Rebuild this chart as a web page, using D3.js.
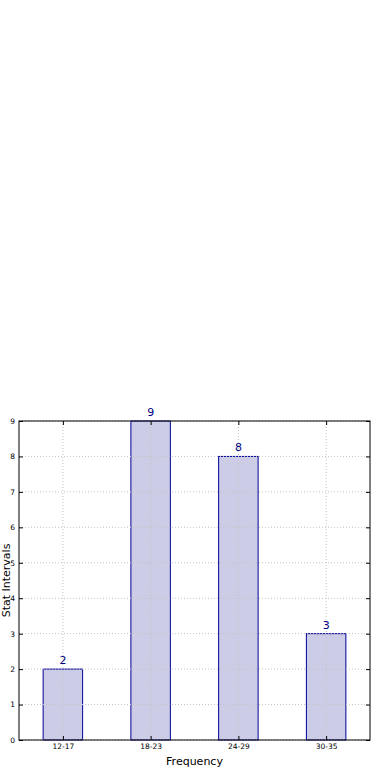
<!DOCTYPE html>
<html>
<head>
<meta charset="utf-8">
<script src="https://cdn.jsdelivr.net/npm/d3@7"></script>
<style>
  body { margin: 0; background: #fff; }
  svg { display: block; font-family: "DejaVu Sans", sans-serif; }
</style>
</head>
<body>
<svg id="chart" width="390" height="780"></svg>
<script>
// chart data
var categories = ["12-17", "18-23", "24-29", "30-35"];
var counts = [2, 9, 8, 3];
var yTicks = [0, 1, 2, 3, 4, 5, 6, 7, 8, 9];

var margin = { top: 421, right: 20, bottom: 40, left: 19 };
var width = 390 - margin.left - margin.right;
var height = 780 - margin.top - margin.bottom;

var svg = d3.select("#chart");
var chart = svg.append("g")
    .attr("transform", "translate(" + margin.left + "," + margin.top + ")");

// categories sit at integer positions, axis spans -0.5 .. 3.5
var x = d3.scaleLinear()
    .domain([-0.5, categories.length - 0.5])
    .range([0, width]);
var y = d3.scaleLinear()
    .domain([0, 9])
    .range([height, 0]);
var barWidth = x(0.45) - x(0);

// bars
chart.append("g")
    .selectAll("rect")
    .data(counts)
    .enter().append("rect")
    .attr("x", function (d, i) { return x(i) - barWidth / 2; })
    .attr("y", function (d) { return y(d); })
    .attr("width", barWidth)
    .attr("height", function (d) { return height - y(d); })
    .attr("fill", "rgba(0,0,128,0.2)")
    .attr("stroke", "#000099")
    .attr("stroke-width", 1);

// grid lines, drawn over the bars like matplotlib does
var grid = chart.append("g").attr("class", "grid");
grid.selectAll("line.gy")
    .data(yTicks)
    .enter().append("line")
    .attr("x1", 0).attr("x2", width)
    .attr("y1", function (d) { return y(d); })
    .attr("y2", function (d) { return y(d); })
    .attr("stroke", "#c4c4c4")
    .attr("stroke-dasharray", "1,2");
grid.selectAll("line.gx")
    .data(categories)
    .enter().append("line")
    .attr("x1", function (d, i) { return x(i); })
    .attr("x2", function (d, i) { return x(i); })
    .attr("y1", 0).attr("y2", height)
    .attr("stroke", "#c4c4c4")
    .attr("stroke-dasharray", "1,2");

// value labels
chart.append("g")
    .selectAll("text")
    .data(counts)
    .enter().append("text")
    .attr("x", function (d, i) { return x(i); })
    .attr("y", function (d) { return y(d) - 5; })
    .attr("text-anchor", "middle")
    .attr("font-size", "11px")
    .attr("fill", "#000080")
    .text(function (d) { return d; });

// frame
chart.append("rect")
    .attr("width", width).attr("height", height)
    .attr("fill", "none")
    .attr("stroke", "#000")
    .attr("stroke-width", 1);

// axes with inward ticks
var tickFmt = function (i) { return categories[i]; };
chart.append("g")
    .attr("transform", "translate(0," + height + ")")
    .call(d3.axisBottom(x).tickValues(d3.range(categories.length)).tickFormat(tickFmt)
        .tickSizeInner(-4).tickSizeOuter(0).tickPadding(4))
    .call(function (g) { g.select(".domain").remove(); });
chart.append("g")
    .call(d3.axisTop(x).tickValues(d3.range(categories.length)).tickFormat("")
        .tickSizeInner(-4).tickSizeOuter(0))
    .call(function (g) { g.select(".domain").remove(); });
chart.append("g")
    .call(d3.axisLeft(y).tickValues(yTicks).tickFormat(d3.format("d"))
        .tickSizeInner(-4).tickSizeOuter(0).tickPadding(4))
    .call(function (g) { g.select(".domain").remove(); });
chart.append("g")
    .attr("transform", "translate(" + width + ",0)")
    .call(d3.axisRight(y).tickValues(yTicks).tickFormat("")
        .tickSizeInner(-4).tickSizeOuter(0))
    .call(function (g) { g.select(".domain").remove(); });

chart.selectAll(".tick text")
    .attr("font-size", "7.5px")
    .attr("font-family", "DejaVu Sans, sans-serif")
    .attr("fill", "#000");
chart.selectAll(".tick line").attr("stroke", "#000");

// axis titles
chart.append("text")
    .attr("x", width / 2)
    .attr("y", height + 25)
    .attr("text-anchor", "middle")
    .attr("font-size", "11px")
    .text("Frequency");
chart.append("text")
    .attr("transform", "rotate(-90)")
    .attr("x", -height / 2)
    .attr("y", -9.5)
    .attr("text-anchor", "middle")
    .attr("font-size", "11px")
    .text("Stat Intervals");
</script>
</body>
</html>
